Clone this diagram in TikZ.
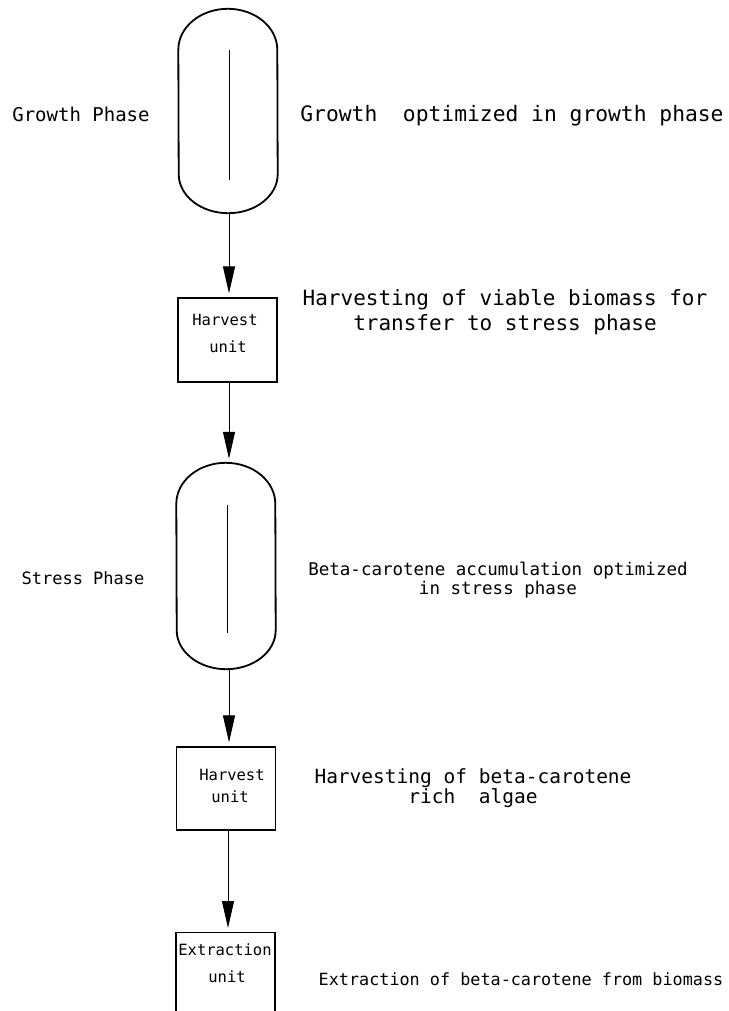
\documentclass[tikz,border=0pt]{standalone}
\usepackage{fontspec}
\setmonofont{DejaVu Sans Mono}
\usetikzlibrary{arrows.meta,calc}
\tikzset{
  tank/.style={minimum width=99pt,minimum height=#1,inner sep=0pt,draw=none},
  tankline/.style={line width=1.8pt},
  unitbox/.style={draw,line width=1.2pt,inner sep=0pt,minimum width=99pt,minimum height=#1},
  flow/.style={line width=1pt,-{Triangle[length=27pt,width=12pt]},shorten >=4pt},
  lbl/.style={font=\ttfamily,inner sep=0pt,align=center},
  boxtext/.style={lbl,font=\ttfamily\fontsize{15.5}{15.5}\selectfont},
}
\begin{document}
\begin{tikzpicture}[x=1pt,y=1pt]
\useasboundingbox (0,0) rectangle (728,-1011);
\clip (0,0) rectangle (728,-1011);
% tanks
\node[tank=204pt] (t1) at (228,-111) {};
\node[tank=206pt] (t2) at (226,-566) {};
\foreach \t in {t1,t2}{
  \draw[tankline] ($(\t.north west)+(0,-41)$) arc[start angle=180,end angle=0,x radius=49.5,y radius=41]
     -- ($(\t.south east)+(0,39)$) arc[start angle=0,end angle=-180,x radius=49.5,y radius=39] -- cycle;
}
\draw[line width=1pt] (229,-50) -- (229,-180);
\draw[line width=1pt] (227,-505) -- (227,-633);
% unit boxes
\node[unitbox=84pt] (h1) at (227.5,-340) {};
\node[unitbox=83pt] (h2) at (226,-788.5) {};
\node[unitbox=90pt,anchor=north] (e1) at (225.5,-932) {};
% box texts
\node[boxtext] at (225,-320) {Harvest};
\node[boxtext] at (228,-347) {unit};
\node[boxtext] at (232,-775) {Harvest};
\node[boxtext] at (230,-797) {unit};
\node[boxtext] at (225,-950) {Extraction};
\node[boxtext] at (227,-977) {unit};
% arrows
\draw[flow] (t1.south -| 229,0) -- (h1.north -| 229,0);
\draw[flow] (h1.south -| 229,0) -- (t2.north -| 229,0);
\draw[flow] (t2.south -| 229,0) -- (h2.north -| 229,0);
\draw[flow] (h2.south -| 228,0) -- (e1.north -| 228,0);
% side labels
\node[lbl,font=\ttfamily\fontsize{19}{19}\selectfont] (gp) at (81,-114) {Growth Phase};
\node[lbl,font=\ttfamily\fontsize{17}{17}\selectfont] (sp) at (83,-578) {Stress Phase};
\node[lbl,font=\ttfamily\fontsize{21.3}{21.3}\selectfont] (d1) at (512,-116) {Growth\ \ optimized in growth phase};
\node[lbl,font=\ttfamily\fontsize{21}{25}\selectfont] (d2) at (505,-312) {Harvesting of viable biomass for\\transfer to stress phase};
\node[lbl,font=\ttfamily\fontsize{17.5}{19}\selectfont] (d3) at (498,-580) {Beta-carotene accumulation optimized\\in stress phase};
\node[lbl,font=\ttfamily\fontsize{19.5}{19}\selectfont] (d4) at (473,-788) {Harvesting of beta-carotene\\rich\ \ algae};
\node[lbl,font=\ttfamily\fontsize{16.8}{17}\selectfont] (d5) at (521,-979) {Extraction of beta-carotene from biomass};
\end{tikzpicture}
\end{document}
